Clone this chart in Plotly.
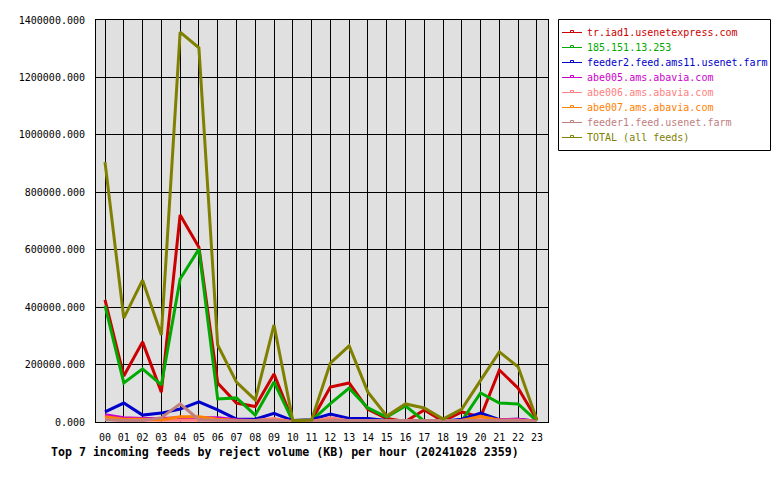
import plotly.graph_objects as go

hours = [f"{h:02d}" for h in range(24)]

feed_names = [
    "tr.iad1.usenetexpress.com",
    "185.151.13.253",
    "feeder2.feed.ams11.usenet.farm",
    "abe005.ams.abavia.com",
    "abe006.ams.abavia.com",
    "abe007.ams.abavia.com",
    "feeder1.feed.usenet.farm",
    "TOTAL (all feeds)",
]
feed_colors = ["#cc0000", "#00aa00", "#0000cc", "#cc00cc", "#ff8080", "#ff8000", "#c08080", "#808000"]

tr_iad1 = [425000, 160000, 279000, 104000, 721000, 609000, 136000, 66000, 54000, 167000, 3000, 5000,
           122000, 136000, 44000, 12000, 2000, 42000, 3000, 35000, 17000, 181000, 118000, 8000]
ip_185 = [405000, 136000, 185000, 129000, 498000, 602000, 80000, 84000, 24000, 139000, 3000, 5000,
          64000, 118000, 49000, 17000, 56000, 3000, 3000, 4000, 101000, 66000, 63000, 3000]
feeder2 = [35000, 66000, 24000, 31000, 45000, 70000, 42000, 10000, 10000, 30000, 5000, 8000,
           28000, 12000, 12000, 5000, 5000, 3000, 3000, 10000, 31000, 8000, 10000, 3000]
abe005 = [25000, 15000, 12000, 12000, 15000, 15000, 15000, 8000, 5000, 5000, 2000, 3000,
          8000, 4000, 3000, 2000, 2000, 2000, 2000, 5000, 12000, 8000, 10000, 3000]
abe006 = [10000, 6000, 6000, 6000, 8000, 8000, 6000, 5000, 5000, 12000, 1000, 2000,
          15000, 4000, 3000, 2000, 2000, 2000, 2000, 5000, 10000, 6000, 6000, 2000]
abe007 = [18000, 10000, 10000, 8000, 18000, 18000, 10000, 6000, 5000, 6000, 1000, 2000,
          6000, 4000, 3000, 2000, 2000, 2000, 2000, 5000, 20000, 6000, 6000, 2000]
feeder1 = [8000, 5000, 5000, 15000, 63000, 8000, 6000, 5000, 5000, 6000, 1000, 2000,
           5000, 5000, 5000, 3000, 3000, 3000, 3000, 4000, 5000, 5000, 5000, 2000]
total = [905000, 362000, 494000, 303000, 1358000, 1303000, 268000, 139000, 77000, 338000, 5000, 7000,
         205000, 265000, 104000, 21000, 63000, 49000, 10000, 45000, 145000, 244000, 192000, 7000]

series = [tr_iad1, ip_185, feeder2, abe005, abe006, abe007, feeder1, total]

y_ticks = [0, 200000, 400000, 600000, 800000, 1000000, 1200000, 1400000]
title_text = "Top 7 incoming feeds by reject volume (KB) per hour (20241028 2359)"

FONT = "DejaVu Sans Mono"

# plot area in pixels
L, R, T, B = 96, 548, 20, 422
W, H = 780, 480

def px_x(px):
    return (px - L) / (R - L)

def px_y(py):
    return (B - py) / (B - T)

fig = go.Figure()
xs = list(range(24))
for name, vals, col in zip(feed_names, series, feed_colors):
    fig.add_trace(go.Scatter(x=xs, y=vals, mode="lines", name=name,
                             line=dict(color=col, width=3), showlegend=False,
                             hoverinfo="x+y+name"))

# manual legend
shapes = []
annotations = []
shapes.append(dict(type="rect", xref="paper", yref="paper",
                   x0=px_x(558.5), x1=px_x(770.5), y0=px_y(150.5), y1=px_y(19.5),
                   line=dict(color="black", width=1), fillcolor="white", layer="above"))
for i, (name, col) in enumerate(zip(feed_names, feed_colors)):
    yy = 32.5 + 15 * i
    shapes.append(dict(type="line", xref="paper", yref="paper",
                       x0=px_x(562), x1=px_x(582), y0=px_y(yy), y1=px_y(yy),
                       line=dict(color=col, width=1), layer="above"))
    shapes.append(dict(type="rect", xref="paper", yref="paper",
                       x0=px_x(570.5), x1=px_x(573.5), y0=px_y(yy), y1=px_y(yy - 2),
                       line=dict(color=col, width=1), fillcolor="white", layer="above"))
    annotations.append(dict(xref="paper", yref="paper", x=px_x(585), y=px_y(yy),
                            xanchor="left", yanchor="middle", text=name, showarrow=False,
                            font=dict(family=FONT, size=10, color=col)))

annotations.append(dict(xref="paper", yref="paper", x=px_x(49), y=px_y(452),
                        xanchor="left", yanchor="middle", text=f"<b>{title_text}</b>",
                        showarrow=False, font=dict(family=FONT, size=11.6, color="black")))

fig.update_layout(
    width=W, height=H,
    margin=dict(l=L, r=W - R, t=T, b=H - B, pad=0),
    paper_bgcolor="white", plot_bgcolor="#e0e0e0",
    font=dict(family=FONT, size=10, color="black"),
    shapes=shapes, annotations=annotations,
    showlegend=False,
)
fig.update_xaxes(range=[-0.48, 23.59], tickmode="array", tickvals=xs, ticktext=hours,
                 showgrid=True, gridcolor="black", gridwidth=1, zeroline=False,
                 showline=True, linecolor="black", linewidth=1, mirror=True,
                 ticks="", ticklabelstandoff=6, tickfont=dict(family=FONT, size=10))
fig.update_yaxes(range=[0, 1400000], tickmode="array", tickvals=y_ticks,
                 ticktext=[f"{v:.3f}" for v in y_ticks],
                 showgrid=True, gridcolor="black", gridwidth=1, zeroline=False,
                 showline=True, linecolor="black", linewidth=1, mirror=True,
                 ticks="", ticklabelstandoff=8, tickfont=dict(family=FONT, size=10))

fig.write_html("out.html")
